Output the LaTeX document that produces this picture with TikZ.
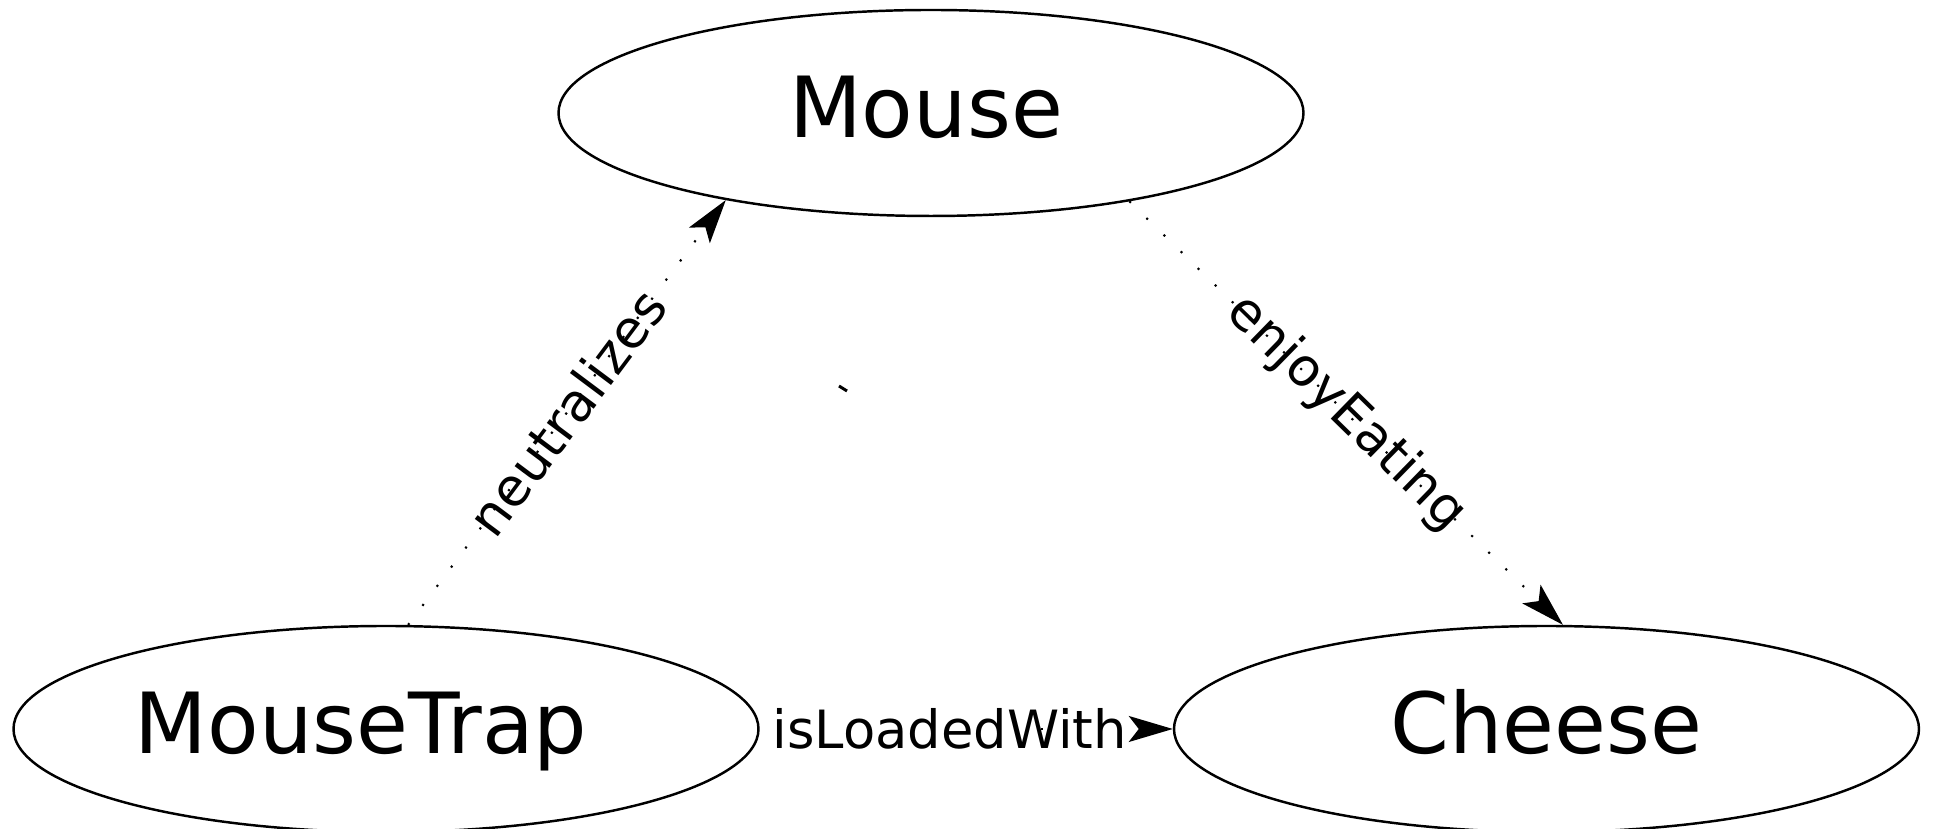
\documentclass[tikz,border=0pt]{standalone}
\usepackage{fontspec}
\setmainfont{DejaVu Sans}
\usetikzlibrary{shapes.geometric,arrows.meta,positioning}

\begin{document}
\begin{tikzpicture}[
    concept/.style={ellipse, draw, line width=0.7pt, minimum width=7.45cm, minimum height=2.06cm, inner sep=0pt, text height=0.62cm, text depth=0.12cm, font=\fontsize{24}{28}\selectfont},
    relation/.style={line width=0.6pt, dash pattern=on 0.6pt off 6.2pt, -{Stealth[length=0.44cm, width=0.26cm, inset=0.1cm]}},
    sparserel/.style={relation, dash pattern=on 0pt off 79.9pt on 0.6pt off 300pt},
    rellabel/.style={font=\fontsize{15}{18}\selectfont, sloped, inner sep=0pt}
]
\useasboundingbox (0,0) rectangle (19.33,8.29);

% Concepts
\node[concept] (mouse) at (9.31,7.16) {\kern-0.1cm Mouse};
\node[concept] (trap) at (3.86,1.00) {\kern-0.5cm MouseTrap};
\node[concept] (cheese) at (15.465,1.00) {Cheese};

% Relations
\draw[relation] (trap.78.5) -- (mouse.203) node[rellabel, midway] {neutralizes};
\draw[relation] (mouse.336.6) -- (cheese.81.2) node[rellabel, midway] {enjoyEating};
\draw[sparserel] (trap.east) -- (cheese.west) node[rellabel, pos=0.46] {isLoadedWith};

% Stray mark
\coordinate (marka) at (8.39,4.43);
\coordinate (markb) at (8.47,4.38);
\draw[line width=0.85pt] (marka) -- (markb);

\end{tikzpicture}
\end{document}
